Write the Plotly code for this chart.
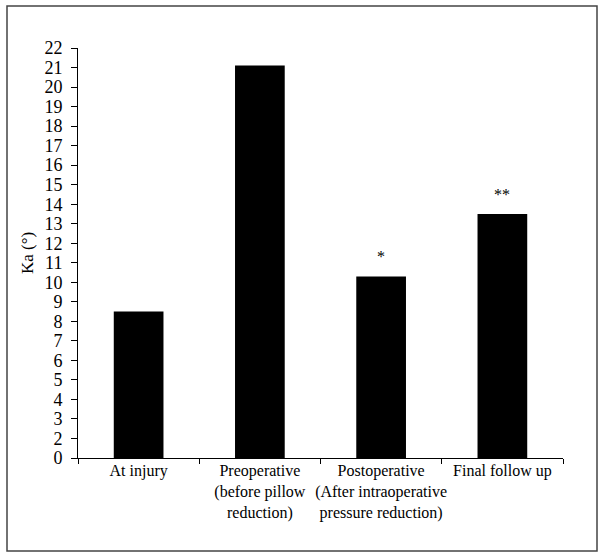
import plotly.graph_objects as go

# Data (values in the units of the printed tick labels)
categories = ["At injury",
              "Preoperative<br>(before pillow<br>reduction)",
              "Postoperative<br>(After intraoperative<br>pressure reduction)",
              "Final follow up"]
ka_values = [8.5, 21.1, 10.3, 13.5]
significance = ["", "", "*", "**"]

# The printed axis: evenly spaced ticks labelled 0, 2, 3, ..., 22 (no "1" label)
tick_positions = list(range(1, 23))
tick_labels = ["0"] + [str(i) for i in range(2, 23)]
axis_base = tick_positions[0]

W, H = 602, 558
L, R, T, B = 78, 39, 48, 100
pw, ph = W - L - R, H - T - B

fig = go.Figure()
fig.add_trace(go.Bar(
    x=categories,
    y=[v - axis_base for v in ka_values],
    base=axis_base,
    width=0.41,
    marker=dict(color="black", line=dict(width=0)),
    showlegend=False,
    hoverinfo="skip",
))

for cat, val, sig in zip(categories, ka_values, significance):
    if sig:
        fig.add_annotation(x=cat, y=val, text=sig, showarrow=False,
                           xref="x", yref="y", yanchor="bottom", yshift=9,
                           font=dict(family="Liberation Serif", size=16, color="black"))

def px_to_paper_x(px):
    return (px - L) / pw

def px_to_paper_y(py):
    return (H - B - py) / ph

fig.add_shape(type="rect", xref="paper", yref="paper",
              x0=px_to_paper_x(7), x1=px_to_paper_x(597),
              y0=px_to_paper_y(551), y1=px_to_paper_y(6),
              line=dict(color="#444", width=1.5), layer="below")

fig.update_layout(
    width=W, height=H,
    margin=dict(l=L, r=R, t=T, b=B, autoexpand=False),
    plot_bgcolor="white", paper_bgcolor="white",
    font=dict(family="Liberation Serif", color="black"),
)
fig.update_xaxes(
    type="category",
    showline=True, linecolor="black", linewidth=1,
    ticks="outside", tickson="boundaries", ticklen=5, tickcolor="black",
    tickangle=0, ticklabelstandoff=-2,
    tickfont=dict(size=16, family="Liberation Serif", color="black"),
    showgrid=False, zeroline=False,
)
fig.update_yaxes(
    range=[axis_base, 22],
    tickmode="array", tickvals=tick_positions, ticktext=tick_labels,
    showline=True, linecolor="black", linewidth=1,
    ticks="outside", ticklen=6, tickcolor="black",
    ticklabelstandoff=5,
    tickfont=dict(size=18, family="Liberation Serif", color="black"),
    showgrid=False, zeroline=False,
    title=dict(text="Ka (°)", standoff=6,
               font=dict(size=17, family="Liberation Serif", color="black")),
)

fig.write_html("out.html",
               config={"displayModeBar": False},
               post_script="document.body.style.margin='0';document.body.style.padding='0';")
